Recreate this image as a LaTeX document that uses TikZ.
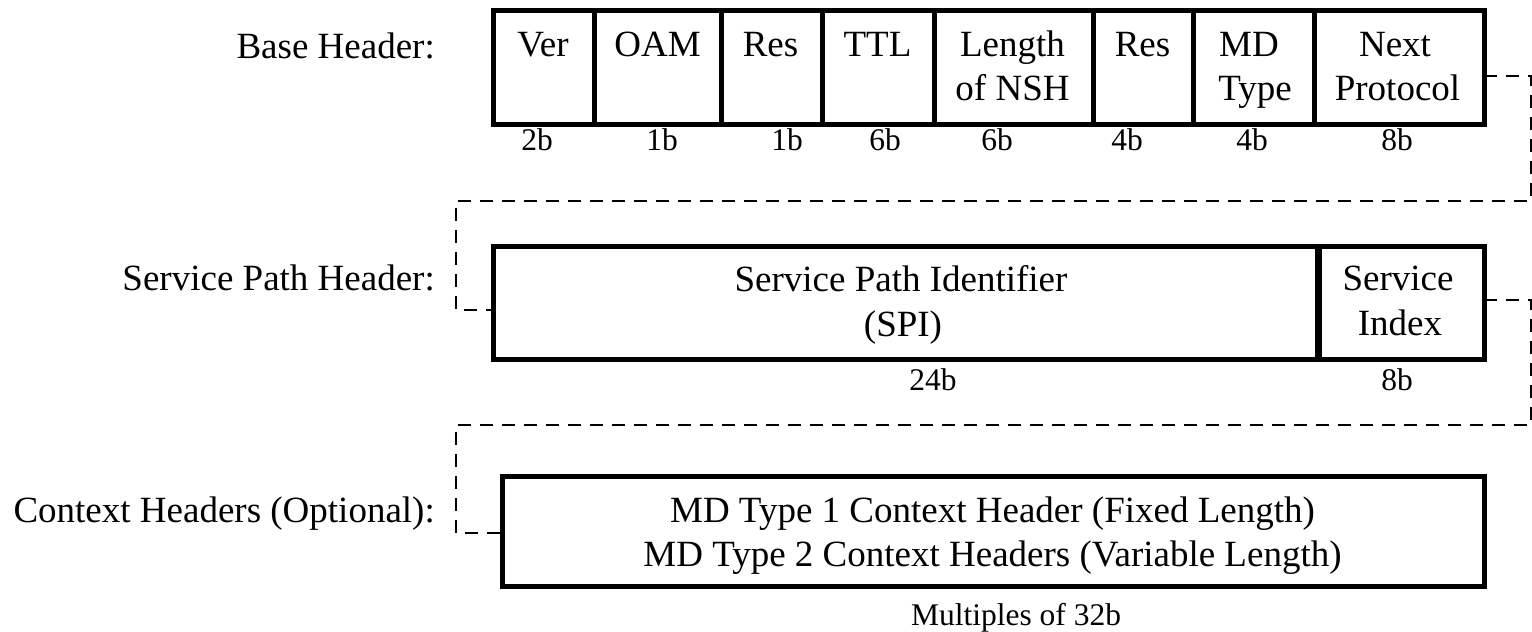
\documentclass[tikz,border=0pt]{standalone}
\usepackage{fontspec}
\setmainfont{Liberation Serif}
\begin{document}
\begin{tikzpicture}[x=1pt,y=-1pt]
\tikzset{
  cell/.style={draw, line width=5pt, inner sep=0pt, outer sep=0pt},
  txt/.style={font=\fontsize{37}{45}\selectfont, inner sep=0pt, anchor=base},
  lbl/.style={font=\fontsize{37}{45}\selectfont, inner sep=0pt, anchor=base east},
  bits/.style={font=\fontsize{31.5}{38}\selectfont, inner sep=0pt, anchor=base},
  conn/.style={line width=2.8pt, dash pattern=on 13pt off 9pt},
}
\useasboundingbox (0,0) rectangle (1532,632);

% ---- Base header ----
\node[lbl] (lbase) at (435,58) {Base Header:};
\node[cell, minimum width=101pt, minimum height=114pt] (ver)  at (543.5,67) {};
\node[cell, minimum width=127pt, minimum height=114pt] (oam)  at (657.5,67) {};
\node[cell, minimum width=101pt, minimum height=114pt] (resa) at (771.5,67) {};
\node[cell, minimum width=112pt, minimum height=114pt] (ttl)  at (878,67) {};
\node[cell, minimum width=159pt, minimum height=114pt] (len)  at (1013.5,67) {};
\node[cell, minimum width=100pt, minimum height=114pt] (resb) at (1143,67) {};
\node[cell, minimum width=121pt, minimum height=114pt] (md)   at (1253.5,67) {};
\node[cell, minimum width=170pt, minimum height=114pt] (next) at (1399,67) {};

\node[txt] (tver)  at (543,56) {Ver};
\node[txt] (toam)  at (657.5,56) {OAM};
\node[txt] (tresa) at (770.5,56) {Res};
\node[txt] (tttl)  at (877.5,56) {TTL};
\node[txt] (tlen1) at (1012.5,56) {Length};
\node[txt] (tlen2) at (1012.5,100) {of NSH};
\node[txt] (tresb) at (1142.5,56) {Res};
\node[txt] (tmd1)  at (1249,56) {MD};
\node[txt] (tmd2)  at (1255,100) {Type};
\node[txt] (tnx1)  at (1395,56) {Next};
\node[txt] (tnx2)  at (1397.5,100) {Protocol};

\node[bits] (bver)  at (537,150) {2b};
\node[bits] (boam)  at (662,150) {1b};
\node[bits] (bresa) at (787,150) {1b};
\node[bits] (bttl)  at (885,150) {6b};
\node[bits] (blen)  at (997,150) {6b};
\node[bits] (bresb) at (1127,150) {4b};
\node[bits] (bmd)   at (1252,150) {4b};
\node[bits] (bnext) at (1397,150) {8b};

% ---- Service path header ----
\node[lbl] (lsph) at (435,290) {Service Path Header:};
\node[cell, minimum width=824pt, minimum height=113pt] (spi) at (905,302.5) {};
\node[cell, minimum width=165pt, minimum height=113pt] (si)  at (1401.5,302.5) {};
\node[txt] (tspi1) at (901,291) {Service Path Identifier};
\node[txt] (tspi2) at (903,336) {(SPI)};
\node[txt] (tsi1)  at (1398,290) {Service};
\node[txt] (tsi2)  at (1400,335) {Index};
\node[bits] (bspi) at (933,390) {24b};
\node[bits] (bsi)  at (1397,390) {8b};

% ---- Context headers ----
\node[lbl] (lctx) at (435,522) {Context Headers (Optional):};
\node[cell, minimum width=982pt, minimum height=110pt] (ctx) at (993,531) {};
\node[txt] (tctx1) at (992.5,522) {MD Type 1 Context Header (Fixed Length)};
\node[txt] (tctx2) at (992.5,566) {MD Type 2 Context Headers (Variable Length)};
\node[bits] (bctx) at (1016,625) {Multiples of 32b};

% ---- dashed connectors ----
\coordinate (a1) at (1531,201);
\coordinate (a2) at (456,201);
\coordinate (b1) at (1531,425);
\coordinate (b2) at (456,425);
\draw[conn] ([yshift=-9pt]next.east) -| (a1) -- (a2) |- ([yshift=-7.5pt]spi.west);
\draw[conn] ([yshift=2.5pt]si.east) -| (b1) -- (b2) |- ([yshift=-2pt]ctx.west);
\end{tikzpicture}
\end{document}
